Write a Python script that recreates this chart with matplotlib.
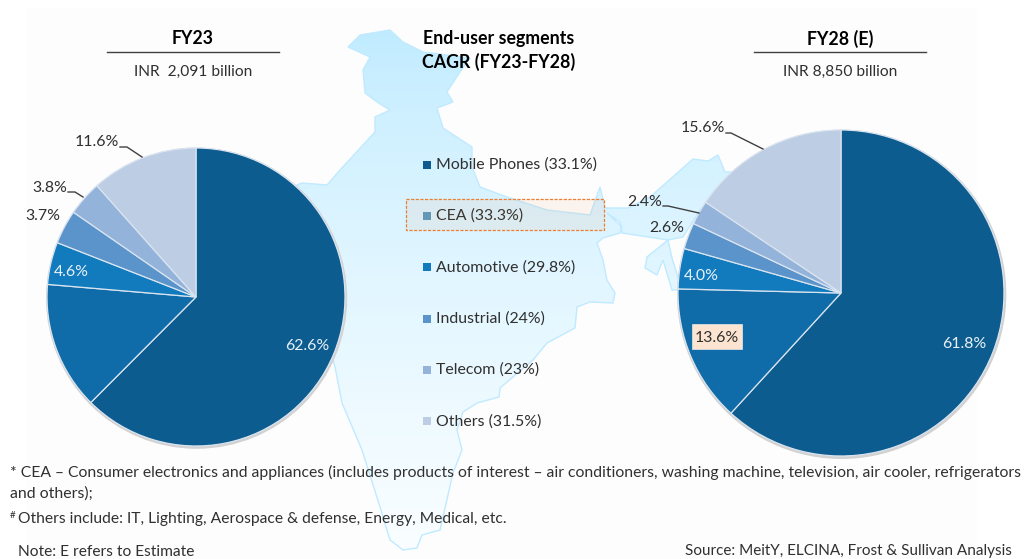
"""End-user segment pies for FY23 and FY28 over a map of India."""

import matplotlib.pyplot as plt
import numpy as np
from matplotlib.patches import Circle, Polygon, Rectangle

plt.rcParams["font.family"] = ["Lato", "DejaVu Sans"]

W, H = 1033, 559
TEXT = "#303030"

segments = ["Mobile Phones", "CEA", "Automotive", "Industrial", "Telecom", "Others"]
cagr = ["33.1%", "33.3%", "29.8%", "24%", "23%", "31.5%"]
fy23_share = [62.6, 13.9, 4.6, 3.7, 3.8, 11.6]
fy28_share = [61.8, 13.6, 4.0, 2.6, 2.4, 15.6]
colors = ["#0d5c8f", "#0f6ca8", "#127bbd", "#5a94ca", "#94b3da", "#bccde4"]
legend_colors = ["#0d5c8f", "#5b9ac2", "#127bbd", "#5a94ca", "#94b3da", "#bccde4"]

# outline of the background map, in pixels of the picture
india_x = [348, 360, 390, 403, 423, 470, 460, 447, 453, 437, 443, 472, 472, 480, 507, 547,
           590, 600, 605, 628, 650, 667, 693, 708, 718, 725, 733, 700, 683, 668, 647, 645,
           657, 663, 672, 682, 672, 668, 622, 620, 607, 622, 620, 603, 597, 603, 607, 615,
           613, 590, 577, 575, 547, 533, 500, 499, 477, 463, 457, 462, 453, 440, 422, 417,
           403, 390, 380, 362, 342, 335, 325, 290, 285, 302, 327, 340, 375, 375, 390, 377,
           365, 363, 370]
india_y = [47, 35, 30, 42, 52, 58, 72, 92, 102, 108, 128, 147, 167, 187, 197, 210,
           215, 187, 208, 208, 197, 182, 159, 161, 155, 172, 172, 210, 237, 240, 257, 268,
           275, 260, 290, 290, 258, 240, 233, 222, 213, 227, 233, 238, 243, 260, 280, 293,
           303, 302, 307, 328, 343, 360, 388, 397, 403, 412, 430, 450, 473, 530, 535, 548,
           550, 540, 507, 450, 403, 367, 330, 230, 190, 183, 185, 170, 132, 117, 110, 102,
           93, 70, 57]


def draw_pie(center, radius, values):
    left = (center[0] - radius) / W
    bottom = 1 - (center[1] + radius) / H
    ax = fig.add_axes([left, bottom, 2 * radius / W, 2 * radius / H], zorder=1)
    ax.add_patch(Circle((0.004, -0.008), 1.006, color="#d2d2d2", clip_on=False, zorder=0))
    wedges, _ = ax.pie(
        values,
        colors=colors,
        startangle=90,
        counterclock=False,
        radius=1,
        wedgeprops={"edgecolor": "#d9e4f0", "linewidth": 0.9},
    )
    for wedge in wedges:
        wedge.set_clip_on(False)
    ax.set_xlim(-1, 1)
    ax.set_ylim(-1, 1)
    ax.axis("off")


def label(x, y, text, color=TEXT, size=11.4, ha="center", **kwargs):
    top.text(x, y + 1.5, text, color=color, fontsize=size, ha=ha, va="center", **kwargs)


fig = plt.figure(figsize=(W / 100, H / 100), dpi=100)

# full picture axes in pixel coordinates: one under the pies, one over them
back = fig.add_axes([0, 0, 1, 1], zorder=0)
top = fig.add_axes([0, 0, 1, 1], zorder=2)
for ax in (back, top):
    ax.set_xlim(0, W)
    ax.set_ylim(H, 0)
    ax.axis("off")

back.add_patch(Rectangle((27, 8), 950, 551, facecolor="#fdfdfd", edgecolor="none"))

gradient = np.linspace(0, 1, 256).reshape(-1, 1) ** 0.7
start = np.array([0.74, 0.92, 1.0])
end = np.array([0.98, 0.995, 1.0])
image = back.imshow(
    start + (end - start) * gradient[..., None],
    extent=(280, 740, 555, 25),
    aspect="auto",
    zorder=1,
)
outline = Polygon(
    np.column_stack([india_x, india_y]),
    closed=True,
    facecolor="none",
    edgecolor="#c0eaff",
    linewidth=1.0,
    zorder=2,
)
back.add_patch(outline)
image.set_clip_path(outline)
back.set_xlim(0, W)
back.set_ylim(H, 0)

draw_pie((196, 297), 149, fy23_share)
draw_pie((841, 293), 163, fy28_share)

# headers
for cx, title, total in [(193, "FY23", "INR  2,091 billion"), (840, "FY28 (E)", "INR 8,850 billion")]:
    label(cx, 37, title, color="black", size=12.8, fontweight="bold")
    top.plot([cx - 86, cx + 86], [52, 52], color="#404040", lw=1.0)
    label(cx, 70.5, total, size=11.2)
label(499, 37, "End-user segments", color="black", size=12.8, fontweight="bold")
label(499, 60.5, "CAGR (FY23-FY28)", color="black", size=12.8, fontweight="bold")

# legend in the middle
legend_y = [163.5, 214.5, 266, 317.5, 368.5, 420]
for y, name, rate, color in zip(legend_y, segments, cagr, legend_colors):
    top.add_patch(Rectangle((423, y - 3), 8, 8, facecolor=color, edgecolor="none"))
    label(436, y, f"{name} ({rate})", ha="left")
top.add_patch(
    Rectangle((406, 199), 198, 31, facecolor="#ed7d31", alpha=0.07, edgecolor="none", zorder=4)
)
top.add_patch(
    Rectangle((406, 199), 198, 31, facecolor="none", edgecolor="#ed7d31", lw=0.9, ls=(0, (2.5, 1.2)), zorder=4)
)

# FY23 labels
label(97, 141, f"{fy23_share[5]}%")
label(50, 186, f"{fy23_share[4]}%")
label(43, 214, f"{fy23_share[3]}%")
label(71, 270, f"{fy23_share[2]}%", color="#e8f1f8")
label(307, 344, f"{fy23_share[0]}%", color="#e8f1f8")
top.plot([120, 127, 142], [147, 147, 157], color="#404040", lw=1.0)
top.plot([68, 75, 83], [192, 192, 197], color="#404040", lw=1.0)

# FY28 labels
label(703, 127, f"{fy28_share[5]}%")
label(645, 201, f"{fy28_share[4]}%")
label(667, 226, f"{fy28_share[3]}%")
label(701, 274, f"{fy28_share[2]:.1f}%", color="#e8f1f8")
label(964, 342, f"{fy28_share[0]}%", color="#e8f1f8")
top.add_patch(Rectangle((692, 324), 50, 25, facecolor="#fde4d0", edgecolor="#e8e8e8", lw=0.5))
label(717, 337, f"{fy28_share[1]}%")
top.plot([726, 731, 763], [133, 133, 149], color="#404040", lw=1.0)
top.plot([663, 668, 699], [206, 206, 213], color="#404040", lw=1.0)

# footnotes
label(
    10,
    471,
    "* CEA – Consumer electronics and appliances (includes products of interest – "
    "air conditioners, washing machine, television, air cooler, refrigerators",
    size=11.35,
    ha="left",
)
label(10, 492, "and others);", ha="left")
label(10, 514, "#", size=7, ha="left")
label(18, 518, "Others include: IT, Lighting, Aerospace & defense, Energy, Medical, etc.", size=11.25, ha="left")
label(18, 550, "Note: E refers to Estimate", size=11.15, ha="left")
label(1012, 550, "Source: MeitY, ELCINA, Frost & Sullivan Analysis", size=10.95, ha="right")

fig.savefig("out.png", dpi=100)
